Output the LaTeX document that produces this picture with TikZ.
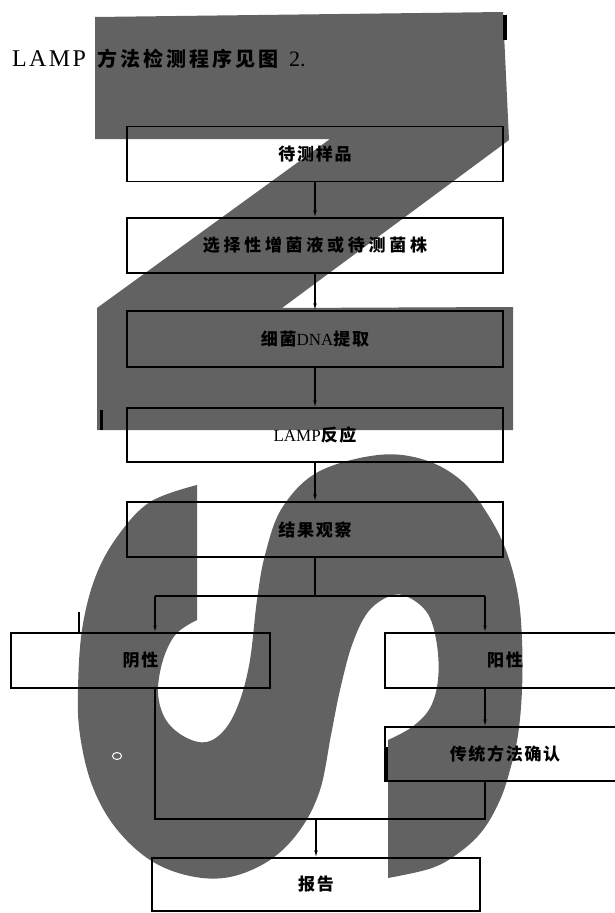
\documentclass[tikz,border=0pt]{standalone}
\usepackage{fontspec}
\setmainfont{Liberation Serif}
\newfontfamily\cjk{Noto Sans CJK SC}
\usetikzlibrary{arrows.meta}
\definecolor{wm}{RGB}{98,98,98}
\begin{document}
\begin{tikzpicture}[x=1pt,y=-1pt,
  box/.style={draw,line width=1.2pt,minimum width=376pt,minimum height=55pt,inner sep=0pt,
    font=\cjk\bfseries\fontsize{17}{17}\selectfont\addfontfeature{LetterSpace=10}},
  titletext/.style={anchor=base west,inner sep=0pt},
  link/.style={line width=1.1pt},
  arr/.style={line width=1.1pt,-{Latex[length=7pt,width=3.5pt]}}]
\useasboundingbox (0,0) rectangle (615,913);
\clip (0,0) rectangle (615,913);
\fill[white] (0,0) rectangle (615,913);
% watermark Z
\fill[wm] (95,17) -- (503,12) -- (509,140) -- (282,308) -- (513,307) -- (513,430)
  -- (97,430) -- (97,308) -- (330,139) -- (95,139) -- cycle;
% watermark S
\fill[wm] (197,485) -- (197,620)
  -- plot[smooth,tension=0.6] coordinates {(197,620) (176,634) (163,660) (158,693) (166,720) (185,737) (207,742) (226,728) (240,700) (250,660) (257,600) (265,555) (282,508) (318,472) (378,455) (425,460) (463,482) (490,518) (507,553) (518,595) (522,640) (522,690) (518,735) (510,770) (500,800) (483,830) (460,852) (432,868) (388,878)}
  -- (388,740)
  -- plot[smooth,tension=0.6] coordinates {(388,740) (412,727) (430,708) (438,680) (437,645) (428,614) (408,597) (390,596) (368,612) (352,645) (340,690) (331,735) (320,790) (300,830) (270,860) (230,877) (190,876) (150,860) (115,827) (92,785) (80,735) (78,690) (82,630) (95,578) (117,537) (150,502) (197,485)}
  -- cycle;
% scan marks
\fill[black] (503,15) rectangle (507,40);
\fill[black] (100,410) rectangle (103,430);
\fill[black] (384,747) rectangle (388,781);
\fill[black] (78,612) rectangle (80,632);
\draw[white,line width=1pt] (117,756) ellipse (4.5 and 3.5);
% title line
\node[titletext] (t1) at (12,66) {\fontsize{24}{24}\selectfont\addfontfeature{LetterSpace=10}LAMP};
\node[titletext] (t2) at (97,66) {\cjk\bfseries\fontsize{20}{20}\selectfont\addfontfeature{LetterSpace=15}方法检测程序见图};
\node[titletext] (t3) at (289,66) {\fontsize{22}{22}\selectfont 2.};
% boxes
\node[box] (b1) at (315,154) {待测样品};
\node[box,font=\cjk\bfseries\fontsize{17}{17}\selectfont\addfontfeature{LetterSpace=22}] (b2) at (315,245.5) {选择性增菌液或待测菌株};
\node[box,minimum height=56pt] (b3) at (315,339) {细菌{\rmfamily\mdseries DNA}提取};
\node[box,minimum height=54pt] (b4) at (315,435) {{\rmfamily\mdseries LAMP}反应};
\node[box] (b5) at (315,529.5) {结果观察};
\node[box,minimum width=259pt] (neg) at (140.5,660.5) {阴性};
\node[box,minimum width=240pt] (pos) at (505,660.5) {阳性};
\node[box,minimum width=240pt,minimum height=54pt] (conf) at (505,754) {传统方法确认};
\node[box,minimum width=328pt,minimum height=53pt] (rep) at (316,884.5) {报告};
% connectors
\coordinate (sl) at (155,596);
\coordinate (sr) at (485,596);
\coordinate (ml) at (155,819);
\coordinate (mr) at (485,819);
\draw[arr] (b1.south) -- (b2.north);
\draw[arr] (b2.south) -- (b3.north);
\draw[arr] (b3.south) -- (b4.north);
\draw[arr] (b4.south) -- (b5.north);
\draw[link] (b5.south) -- (b5.south |- sl);
\draw[link] (sl) -- (sr);
\draw[arr] (sl) -- (sl |- neg.north);
\draw[arr] (sr) -- (sr |- pos.north);
\draw[arr] (sr |- pos.south) -- (sr |- conf.north);
\draw[link] (ml |- neg.south) -- (ml) -- (mr) -- (mr |- conf.south);
\draw[arr] (rep.north |- ml) -- (rep.north);
\end{tikzpicture}
\end{document}
